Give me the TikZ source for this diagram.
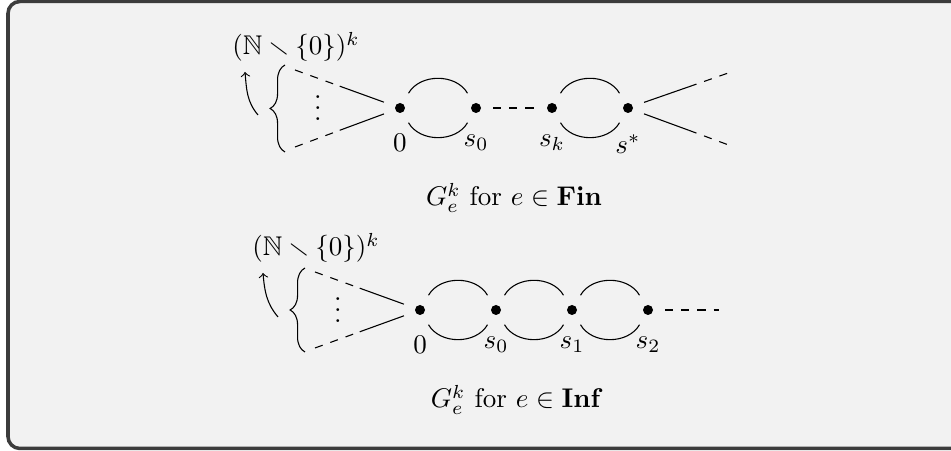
\documentclass[tikz,border=0pt]{standalone}
\usepackage{amssymb}
\usetikzlibrary{decorations.pathreplacing}
\definecolor{framegray}{HTML}{3C3C3C}
\definecolor{panel}{HTML}{F2F2F2}
\tikzset{
  vert/.style={circle, minimum size=12.2pt, inner sep=0pt,
    path picture={\fill (path picture bounding box.center) circle (1.85pt);}},
  lbl/.style={anchor=base, inner sep=0pt},
  bracestyle/.style={decorate, decoration={brace, amplitude=5.5pt}},
}
\begin{document}
\begin{tikzpicture}[x=0.37pt, y=0.37pt]
\useasboundingbox (0,0) rectangle (951,451);
\fill[panel, rounded corners=4.4pt] (8,2.5) rectangle (990,449.5);
\draw[framegray, line width=1.3pt, rounded corners=4.4pt] (990,449.5) -- (8,449.5) -- (8,2.5) -- (990,2.5);

% ---------- top graph ----------
\node[vert, label=below:$0$] (a0) at (400,343) {};
\node[vert, label=below:$s_0$] (a1) at (476,343) {};
\node[vert, label=below:$s_k$] (ak) at (552,343) {};
\node[vert, label=below:$s^*$] (as) at (628,343) {};

\draw (a0) to[bend left=60] (a1);
\draw (a0) to[bend right=60] (a1);
\draw (ak) to[bend left=60] (as);
\draw (ak) to[bend right=60] (as);
\draw[dashed] (a1) -- (ak);

\coordinate (auf) at (295,381);
\coordinate (aum) at (339.75,364.8);
\coordinate (alf) at (295,304);
\coordinate (alm) at (339.75,320.7);
\draw[dashed] (auf) -- (aum);
\draw (aum) -- (a0);
\draw[dashed] (alf) -- (alm);
\draw (alm) -- (a0);

\coordinate (ruf) at (734,380);
\coordinate (rum) at (688.8,364.2);
\coordinate (rlf) at (734,304);
\coordinate (rlm) at (688.8,320.7);
\draw (as) -- (rum);
\draw[dashed] (rum) -- (ruf);
\draw (as) -- (rlm);
\draw[dashed] (rlm) -- (rlf);

\node[lbl] (avd) at (318,330.7) {$\vdots$};
\coordinate (abb) at (285,299);
\coordinate (abt) at (285,386);
\draw[bracestyle] (abb) -- (abt);
\coordinate (aas) at (258,336);
\node[lbl] (aset) at (296,396) {$(\mathbb{N}\smallsetminus\{0\})^k$};
\coordinate (aae) at (245,379);
\draw[->] (aas) to[out=130,in=-85] (aae);

\node[lbl] (acap) at (514,245) {$G_e^k$ for $e\in\mathbf{Fin}$};

% ---------- bottom graph ----------
\node[vert, label=below:$0$] (b0) at (420,141) {};
\node[vert, label=below:$s_0$] (b1) at (496,141) {};
\node[vert, label=below:$s_1$] (b2) at (572,141) {};
\node[vert, label=below:$s_2$] (b3) at (648,141) {};
\coordinate (bend) at (719,141);

\draw (b0) to[bend left=60] (b1);
\draw (b0) to[bend right=60] (b1);
\draw (b1) to[bend left=60] (b2);
\draw (b1) to[bend right=60] (b2);
\draw (b2) to[bend left=60] (b3);
\draw (b2) to[bend right=60] (b3);
\draw[dashed] (b3) -- (bend);

\coordinate (buf) at (315,179);
\coordinate (bum) at (359.75,162.8);
\coordinate (blf) at (315,103);
\coordinate (blm) at (359.75,119.2);
\draw[dashed] (buf) -- (bum);
\draw (bum) -- (b0);
\draw[dashed] (blf) -- (blm);
\draw (blm) -- (b0);

\node[lbl] (bvd) at (338,128.7) {$\vdots$};
\coordinate (bbb) at (305,99);
\coordinate (bbt) at (305,183);
\draw[bracestyle] (bbb) -- (bbt);
\coordinate (bas) at (278,134);
\node[lbl] (bset) at (316,195) {$(\mathbb{N}\smallsetminus\{0\})^k$};
\coordinate (bae) at (263,178);
\draw[->] (bas) to[out=130,in=-85] (bae);

\node[lbl] (bcap) at (517,43) {$G_e^k$ for $e\in\mathbf{Inf}$};
\end{tikzpicture}
\end{document}
